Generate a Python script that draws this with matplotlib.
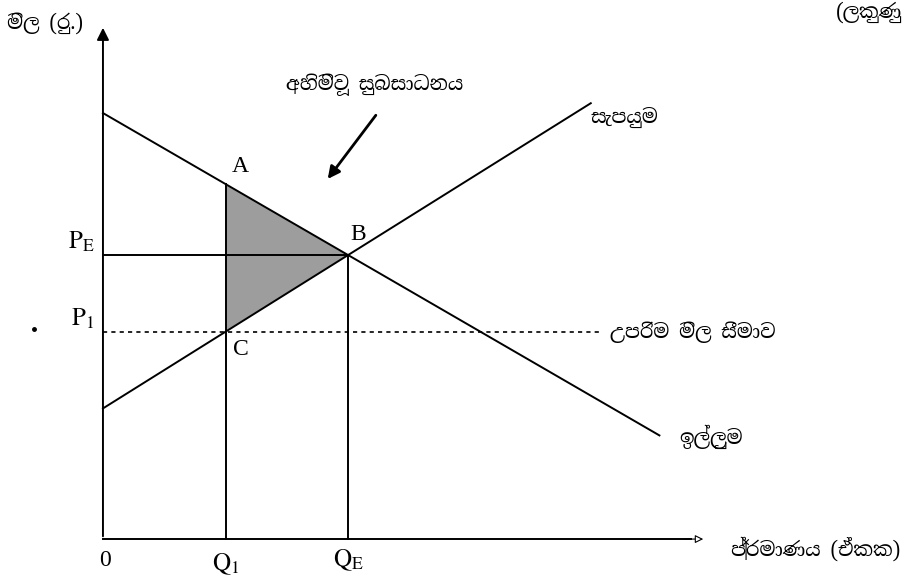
import matplotlib
matplotlib.use('Agg')
import matplotlib.pyplot as plt
from matplotlib import font_manager

# look for a font that has Sinhala glyphs, fall back to DejaVu
sinhala = [f for f in font_manager.findSystemFonts() if 'inhala' in f or 'Iskoola' in f]
families = ['DejaVu Sans']
for path in sinhala:
    font_manager.fontManager.addfont(path)
    families.insert(0, font_manager.FontProperties(fname=path).get_name())
    break
plt.rcParams['font.family'] = families
plt.rcParams['mathtext.fontset'] = 'stix'

# market (quantity units, price units)
demand_intercept = 15.0
demand_slope = -0.5
demand_end_q = 22.7
supply_intercept = 4.6
supply_slope = 0.54
supply_end_q = 19.9
q_e = 10.0
q_1 = 5.0
ceiling_end_q = 20.3

y_label = 'මිල (රු.)'
x_label = 'ප්‍රමාණය (ඒකක)'
dwl_label = 'අහිමිවූ සුබසාධනය'
supply_label = 'සැපයුම'
demand_label = 'ඉල්ලුම'
ceiling_label = 'උපරිම මිල සීමාව'
corner_label = '(ලකුණු'


def demand(q):
    return demand_intercept + demand_slope * q


def supply(q):
    return supply_intercept + supply_slope * q


p_e = demand(q_e)
p_1 = supply(q_1)
p_a = demand(q_1)

fig = plt.figure(figsize=(9.07, 5.76), dpi=100)
ax = fig.add_axes([0, 0, 1, 1])
ax.set_xlim(-4.2, 32.8)
ax.set_ylim(-1.3, 18.98)
ax.axis('off')

lw = 1.4
# axes with arrows
ax.annotate('', xy=(0, 18.1), xytext=(0, 0),
            arrowprops=dict(arrowstyle='-|>', color='black', lw=lw, mutation_scale=18))
ax.plot([0, 24.0], [0, 0], color='black', lw=lw)
ax.annotate('', xy=(24.6, 0), xytext=(23.6, 0),
            arrowprops=dict(arrowstyle='-|>', color='white', ec='black', lw=0.8, mutation_scale=12))

# deadweight loss triangle
ax.fill([q_1, q_e, q_1], [p_a, p_e, p_1], color='#9d9d9d', lw=0)

# curves
ax.plot([0, demand_end_q], [demand(0), demand(demand_end_q)], color='black', lw=lw)
ax.plot([0, supply_end_q], [supply(0), supply(supply_end_q)], color='black', lw=lw)

# guide lines
ax.plot([0, q_e], [p_e, p_e], color='black', lw=lw)
ax.plot([q_e, q_e], [0, p_e], color='black', lw=lw)
ax.plot([q_1, q_1], [0, p_a], color='black', lw=lw)
ax.plot([0, ceiling_end_q], [p_1, p_1], color='black', lw=1.2, ls=(0, (2.5, 2.5)))

serif = dict(family='Liberation Serif', fontsize=17)
ax.text(q_1 + 0.25, p_a + 0.25, 'A', ha='left', va='bottom', **serif)
ax.text(q_e + 0.1, p_e + 0.35, 'B', ha='left', va='bottom', **serif)
ax.text(q_1 + 0.3, p_1 - 0.25, 'C', ha='left', va='top', **serif)
ax.text(-0.35, p_e, r'$\mathrm{P}_\mathrm{E}$', ha='right', va='bottom', fontsize=18)
ax.text(-0.35, p_1, r'$\mathrm{P}_\mathrm{1}$', ha='right', va='bottom', fontsize=18)
ax.text(0.1, -0.4, '0', ha='center', va='top', **serif)
ax.text(q_1, -0.45, r'$\mathrm{Q}_\mathrm{1}$', ha='center', va='top', fontsize=18)
ax.text(q_e, -0.3, r'$\mathrm{Q}_\mathrm{E}$', ha='center', va='top', fontsize=18)
ax.plot(-2.8, p_1 + 0.1, marker='o', ms=2.5, color='black')

# sinhala labels
sin = dict(fontsize=14, fontweight='bold')
ax.text(-3.9, 18.15, y_label, ha='left', va='center', **sin)
ax.text(11.1, 16.0, dwl_label, ha='center', va='center', **sin)
ax.annotate('', xy=(9.1, 12.6), xytext=(11.2, 15.0),
            arrowprops=dict(arrowstyle='-|>', color='black', lw=2.0, mutation_scale=18))
ax.text(19.9, 14.85, supply_label, ha='left', va='center', **sin)
ax.text(20.7, p_1, ceiling_label, ha='left', va='center', **sin)
ax.text(23.5, 3.6, demand_label, ha='left', va='center', **sin)
ax.text(25.6, -0.35, x_label, ha='left', va='center', **sin)
ax.text(29.9, 18.55, corner_label, ha='left', va='center', **sin)

fig.savefig('out.png', dpi=100)
